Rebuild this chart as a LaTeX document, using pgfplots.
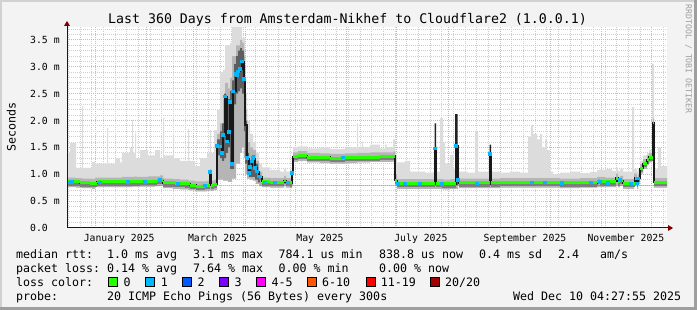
\documentclass[border=0pt]{standalone}
\usepackage{fontspec}
\setmainfont{DejaVu Sans Mono}
\setmonofont{DejaVu Sans Mono}
\usepackage{pgfplots}
\pgfplotsset{compat=1.18}
\usepgfplotslibrary{fillbetween}
\usepackage{pgfplotstable}

\definecolor{bgc}{HTML}{F3F3F3}
\definecolor{smokeA}{HTML}{DCDCDC}
\definecolor{smokeB}{HTML}{B5B5B5}
\definecolor{smokeC}{HTML}{5E5E5E}
\definecolor{smokeD}{HTML}{222222}
\definecolor{band}{HTML}{7E7E7E}
\definecolor{lc0}{HTML}{26FF00}
\definecolor{lc1}{HTML}{00B8FF}
\definecolor{lc2}{HTML}{0059FF}
\definecolor{lc3}{HTML}{7E00FF}
\definecolor{lc4}{HTML}{FF00FF}
\definecolor{lc6}{HTML}{FF5500}
\definecolor{lc11}{HTML}{FF0000}
\definecolor{lc20}{HTML}{A00000}
\definecolor{mgrid}{HTML}{F2A6A6}
\definecolor{mingrid}{HTML}{CFCFCF}
\definecolor{arrowc}{HTML}{7F0000}
\pagecolor{bgc}

\newcommand{\lf}{\fontsize{11.63bp}{13bp}\selectfont}
\newcommand{\tf}{\fontsize{9.8bp}{11bp}\selectfont}
\newcommand{\titf}{\fontsize{13.25bp}{15bp}\selectfont}

% median round-trip time (ms), x = days since 1 Jan 2025
\pgfplotstableread{
x m
-16.8 0.86
-9 0.84
-3 0.83
1.2 0.86
15 0.86
27 0.87
37.2 0.88
39 0.89
40.8 0.84
48 0.83
54 0.82
57 0.80
60.6 0.78
66 0.79
69 1.04
69.6 0.79
71.4 0.81
73.2 1.53
76.2 1.40
76.8 1.73
78 2.45
79.2 1.61
80.4 1.79
81 2.35
82.2 1.19
82.8 2.54
84.6 2.87
85.8 2.91
87 2.96
88.2 3.10
89.4 2.77
90 1.92
91.2 1.30
92.4 1.02
93 1.14
94.2 1.24
94.8 1.30
96 1.12
97.2 1.05
98.4 0.96
100.2 0.86
105 0.85
113.4 0.89
114.6 0.85
117 0.84
118.2 1.02
118.8 1.33
121.8 1.35
127.2 1.32
141 1.30
150 1.31
160.8 1.32
171 1.33
178.8 1.34
180 0.89
181.2 0.83
204 1.48
204.6 0.83
208.2 0.82
216.6 1.53
217.8 0.89
218.4 0.84
237 1.38
237.6 0.84
243 0.85
261 0.85
279 0.84
301.2 0.86
301.8 0.88
303 0.86
312.6 0.93
313.8 0.86
315 0.89
316.8 0.83
324 0.93
325.2 0.83
325.8 0.92
327 1.11
328.8 1.20
331.2 1.27
332.4 1.32
334.8 1.96
335.4 0.85
343.19 0.85
}\medtab

% median segments with 0 loss (green)
\pgfplotstableread{
x m
-16.8 0.86
-9 0.84
-3 0.83
1.2 0.86
15 0.86
27 0.87
37.2 0.88
39 0.89
40.8 0.84
48 0.83
54 0.82
57 0.80
60.6 0.78
66 0.79
69 1.04
69.6 0.79
71.4 0.81
73.2 0.81
73.3 nan
97.2 1.05
98.4 0.96
100.2 0.86
105 0.85
113.4 0.89
114.6 0.85
117 0.84
118.2 1.02
118.8 1.33
121.8 1.35
127.2 1.32
141 1.30
150 1.31
160.8 1.32
171 1.33
178.8 1.34
180 0.89
181.2 0.83
204 1.48
204.6 0.83
208.2 0.82
216.6 1.53
217.8 0.89
218.4 0.84
237 1.38
237.6 0.84
243 0.85
261 0.85
279 0.84
301.2 0.86
301.8 0.88
303 0.86
312.6 0.93
313.8 0.86
315 0.89
316.8 0.83
324 0.93
325.2 0.83
325.8 0.92
327 1.11
328.8 1.20
331.2 1.27
332.4 1.32
334.8 1.96
335.4 0.85
343.19 0.85
}\greentab

% samples with 1 lost ping (blue)
\pgfplotstableread{
x m
-15 0.85
-13.8 0.86
3 0.85
19.8 0.86
30 0.86
39 0.89
49.8 0.83
66 0.79
69 1.04
73.2 1.53
75 1.52
76.2 1.40
76.8 1.73
78 2.45
79.2 1.61
80.4 1.79
81 2.35
82.2 1.19
82.8 2.54
84.6 2.87
85.2 2.85
85.8 2.91
87 2.96
88.2 3.10
89.4 2.77
91.2 1.30
92.4 1.02
93 1.14
94.2 1.24
94.8 1.30
96 1.12
97.2 1.05
98.4 0.96
102 0.85
108 0.85
115.8 0.85
118.2 1.02
148.8 1.31
181.8 0.83
186 0.83
195 0.83
204 1.48
208.2 0.82
216.6 1.53
217.8 0.89
229.2 0.83
237 1.38
262.2 0.85
270 0.85
280.2 0.84
297.6 0.85
303 0.86
307.8 0.84
315 0.89
321.6 0.83
325.2 0.83
325.8 0.92
}\bluetab

% smoke: lower edge, medium band top, maximum
\pgfplotstableread{
x lo md mx
-16.8 0.76 0.94 1.40
-15 0.76 0.94 1.58
-11.4 0.75 0.93 1.12
-7.8 0.74 0.92 2.27
-7.2 0.74 0.92 1.12
-1.8 0.73 0.91 1.23
0 0.76 0.94 1.20
7.2 0.76 0.94 1.86
7.8 0.76 0.94 1.20
12 0.76 0.94 1.30
15 0.76 0.94 1.22
16.2 0.76 0.95 1.40
21 0.76 0.95 1.49
22.2 0.77 0.95 2.01
22.8 0.77 0.95 1.40
24 0.77 0.96 1.77
24.6 0.77 0.95 1.30
27 0.77 0.95 1.45
31.8 0.77 0.96 1.35
36 0.78 0.96 1.45
39 0.79 0.98 1.30
40.8 0.74 0.93 2.05
41.4 0.74 0.92 1.35
46.8 0.73 0.91 1.70
47.4 0.73 0.91 1.30
51 0.72 0.90 1.25
55.8 0.71 0.89 1.84
56.4 0.70 0.88 1.25
60 0.68 0.87 1.15
63 0.68 0.87 1.30
67.2 0.69 0.88 1.40
69 0.70 1.10 1.82
69.6 0.69 0.88 1.40
71.4 0.71 0.90 1.82
73.2 0.90 1.75 2.20
75 0.90 1.95 2.90
76.8 0.88 2.40 2.95
78 0.88 2.70 3.40
79.8 0.86 2.60 3.40
81 0.86 2.80 3.45
82.2 0.92 3.20 3.74
84.6 1.20 3.40 3.74
87 1.40 3.50 3.74
88.2 1.50 3.45 3.54
89.4 1.30 3.20 3.54
90 1.00 2.20 2.50
91.2 0.92 1.60 2.00
93 0.90 1.50 1.75
94.8 0.88 1.45 1.60
96.6 0.82 1.25 1.40
98.4 0.78 1.05 1.20
100.2 0.76 0.94 1.13
105 0.75 0.93 1.08
111 0.75 0.93 1.05
113.4 0.78 0.97 1.10
114.6 0.75 0.93 1.05
117 0.74 0.93 1.08
118.2 0.80 1.10 1.20
118.8 1.23 1.41 1.50
121.8 1.25 1.43 1.52
127.2 1.22 1.40 1.48
135 1.21 1.39 1.50
141 1.20 1.38 1.47
150 1.21 1.39 1.50
157.2 1.22 1.40 1.95
157.8 1.22 1.40 1.50
160.2 1.22 1.40 1.61
160.8 1.22 1.40 1.50
165 1.23 1.41 1.55
171 1.23 1.41 1.48
174 1.23 1.41 1.55
175 1.23 1.41 1.50
178.8 1.24 1.42 1.65
180 0.78 1.00 1.35
181.2 0.73 0.91 1.22
186 0.73 0.91 1.25
189 0.73 0.91 1.05
198 0.73 0.91 1.03
202.8 0.73 0.91 1.05
207 0.73 0.91 2.05
208.8 0.72 0.90 1.59
210 0.72 0.90 1.20
213 0.73 0.91 1.36
214.8 0.73 0.91 1.10
217.8 0.79 0.97 1.05
218.4 0.74 0.92 1.05
223.2 0.74 0.92 1.03
228 0.74 0.92 1.79
229.8 0.74 0.92 1.05
243 0.75 0.93 1.03
249 0.75 0.93 1.05
255 0.75 0.93 1.03
259.8 0.75 0.93 1.70
261.6 0.75 0.93 1.92
262.8 0.75 0.93 1.75
265.2 0.75 0.93 1.65
267 0.75 0.93 1.75
268.2 0.75 0.93 1.50
270 0.75 0.93 1.65
271.2 0.75 0.93 1.45
273 0.75 0.93 1.05
274.8 0.75 0.93 1.00
279 0.74 0.92 1.03
285 0.74 0.92 1.05
291 0.75 0.93 1.02
297 0.75 0.93 1.04
301.2 0.76 0.95 1.08
306 0.76 0.94 1.10
310.2 0.76 0.94 1.06
312.6 0.80 1.01 1.12
313.8 0.76 0.94 1.06
315 0.79 0.97 1.10
316.8 0.73 0.91 1.05
319.8 0.73 0.91 1.05
322.2 0.73 0.91 2.25
323.4 0.80 1.01 1.10
325.2 0.73 0.91 1.05
325.8 0.82 1.00 1.10
327 1.01 1.19 1.25
328.8 1.10 1.28 1.35
331.2 1.17 1.35 1.40
332.4 1.22 1.40 1.45
334.2 1.30 1.50 3.05
334.8 1.85 2.04 3.05
335.4 0.75 0.93 1.10
337.8 0.75 0.93 1.50
339.6 0.75 0.93 1.15
343.19 0.75 0.93 1.15
}\smoketab

% dense (dark) smoke during the high-latency period
\pgfplotstableread{
x dl dh
-16.8 0.8 0.8
73.2 1.35 1.65
75 1.30 1.80
76.2 1.25 1.95
77.4 1.30 2.50
78.6 1.40 2.20
79.8 1.50 2.40
81 1.10 2.55
82.2 1.10 2.75
83.4 2.30 3.05
84.6 2.50 3.20
85.8 2.55 3.30
87 2.60 3.35
88.2 2.50 3.30
89.4 1.80 3.00
90 1.20 2.00
91.2 1.00 1.40
92.4 0.95 1.25
94.2 0.95 1.35
96 0.90 1.20
97.8 0.85 1.05
99 0.8 0.8
343.19 0.8 0.8
}\darktab

% black spikes
\pgfplotstableread{
x dl dh
-16.8 0.8 0.8
203.7 0.80 1.95
204.6 0.8 0.8
216 0.80 2.12
217.5 0.8 0.8
236.7 0.80 1.55
237.6 0.8 0.8
343.19 0.8 0.8
}\spiketab

\begin{document}
\begin{tikzpicture}
\fill[black!18] (0bp,0bp) rectangle (2bp,310bp);
\fill[black!18] (0bp,308bp) rectangle (697bp,310bp);
\fill[black!38] (694bp,0bp) rectangle (697bp,310bp);
\fill[black!38] (0bp,0bp) rectangle (697bp,3bp);

\begin{axis}[
  at={(67bp,82bp)}, anchor=south west,
  scale only axis, width=600bp, height=201bp,
  xmin=-16.81, xmax=343.19, ymin=0, ymax=3.742,
  axis background/.style={fill=white},
  axis line style={draw=none},
  major tick length=0pt, minor tick length=0pt,
  tick pos=left,
  xtick={0,31,59,90,120,151,181,212,243,273,304,334},
  xticklabels={},
  minor xtick={-16,-9,...,341},
  extra x ticks={14.5,73.5,135,195.5,258,318.5},
  extra x tick labels={January 2025,March 2025,May 2025,July 2025,September 2025,November 2025},
  extra x tick style={grid=none, major tick length=0pt},
  ytick={0,0.5,1,1.5,2,2.5,3,3.5},
  yticklabels={0.0,0.5 m,1.0 m,1.5 m,2.0 m,2.5 m,3.0 m,3.5 m},
  minor ytick={0.1,0.2,0.3,0.4,0.6,0.7,0.8,0.9,1.1,1.2,1.3,1.4,1.6,1.7,1.8,1.9,2.1,2.2,2.3,2.4,2.6,2.7,2.8,2.9,3.1,3.2,3.3,3.4,3.6,3.7},
  grid=both,
  major grid style={mgrid, line width=1bp, dash pattern=on 1bp off 1bp},
  minor grid style={mingrid, line width=1bp, dash pattern=on 1bp off 1bp},
  x tick label style={font=\tf, anchor=base, inner sep=0pt, yshift=-13.5bp},
  y tick label style={font=\tf, anchor=west, inner sep=0pt, xshift=-37bp},
  unbounded coords=jump,
]
\addplot[const plot, draw=none, name path=slo] table[x=x,y=lo]{\smoketab};
\addplot[const plot, draw=none, name path=smd] table[x=x,y=md]{\smoketab};
\addplot[const plot, draw=none, name path=smx] table[x=x,y=mx]{\smoketab};
\addplot[fill=smokeA, draw=none] fill between[of=slo and smx];
\addplot[fill=smokeB, draw=none] fill between[of=slo and smd];

\addplot[const plot, draw=none, name path=dlo] table[x=x,y=dl]{\darktab};
\addplot[const plot, draw=none, name path=dhi] table[x=x,y=dh]{\darktab};
\addplot[fill=smokeC, draw=none] fill between[of=dlo and dhi];

\addplot[const plot, draw=none, name path=klo] table[x=x,y=dl]{\spiketab};
\addplot[const plot, draw=none, name path=khi] table[x=x,y=dh]{\spiketab};
\addplot[fill=smokeD, draw=none] fill between[of=klo and khi];

\addplot[jump mark left, band, line width=2.5bp, yshift=-2.5bp] table[x=x,y=m]{\greentab};
\addplot[const plot, black!90, line width=1.3bp] table[x=x,y=m]{\medtab};
\addplot[jump mark left, lc0, line width=3bp] table[x=x,y=m]{\greentab};
\addplot[only marks, color=lc1, mark=square*, mark size=1.3bp, mark options={solid, draw=lc1, fill=lc1, line width=0pt}] table[x=x,y=m]{\bluetab};
\end{axis}

% axes with arrows
\draw[line width=1bp, black!90] (67bp,82bp) -- (668bp,82bp);
\draw[line width=1bp, black!90] (67bp,82bp) -- (67bp,284bp);
\fill[arrowc] (668bp,85bp) -- (673bp,82bp) -- (668bp,79bp) -- cycle;
\fill[arrowc] (64bp,284bp) -- (67bp,289bp) -- (70bp,284bp) -- cycle;

% title and labels
\node[anchor=base, inner sep=0pt, font=\titf] at (347.5bp,286bp) {Last 360 Days from Amsterdam-Nikhef to Cloudflare2 (1.0.0.1)};
\node[rotate=90, anchor=base, inner sep=0pt, font=\lf] at (15.5bp,183bp) {Seconds};
\node[rotate=-90, inner sep=0pt, text=black!38, font=\fontsize{8.2bp}{9bp}\selectfont] at (688.5bp,251bp) {RRDTOOL / TOBI OETIKER};

% legend
\begin{scope}[every node/.style={anchor=base west, inner sep=0pt, font=\lf}]
\node at (16bp,51.7bp) {median rtt:};
\node at (107bp,51.7bp) {1.0 ms avg};
\node at (193bp,51.7bp) {3.1 ms max};
\node at (278.5bp,51.7bp) {784.1 us min};
\node at (379bp,51.7bp) {838.8 us now};
\node at (479bp,51.7bp) {0.4 ms sd};
\node at (558bp,51.7bp) {2.4};
\node at (600bp,51.7bp) {am/s};

\node at (16bp,37.7bp) {packet loss:};
\node at (107bp,37.7bp) {0.14 \% avg};
\node at (193bp,37.7bp) {7.64 \% max};
\node at (278.5bp,37.7bp) {0.00 \% min};
\node at (379bp,37.7bp) {0.00 \% now};

\node at (16bp,23.7bp) {loss color:};
\filldraw[fill=lc0, draw=black, line width=0.8bp] (108.7bp,23.5bp) rectangle ++(9bp,9bp);
\node at (123.3bp,23.7bp) {0};
\filldraw[fill=lc1, draw=black, line width=0.8bp] (145.7bp,23.5bp) rectangle ++(9bp,9bp);
\node at (160.7bp,23.7bp) {1};
\filldraw[fill=lc2, draw=black, line width=0.8bp] (182.7bp,23.5bp) rectangle ++(9bp,9bp);
\node at (197.3bp,23.7bp) {2};
\filldraw[fill=lc3, draw=black, line width=0.8bp] (219.7bp,23.5bp) rectangle ++(9bp,9bp);
\node at (234.3bp,23.7bp) {3};
\filldraw[fill=lc4, draw=black, line width=0.8bp] (256.7bp,23.5bp) rectangle ++(9bp,9bp);
\node at (271.3bp,23.7bp) {4-5};
\filldraw[fill=lc6, draw=black, line width=0.8bp] (307.3bp,23.5bp) rectangle ++(9bp,9bp);
\node at (322bp,23.7bp) {6-10};
\filldraw[fill=lc11, draw=black, line width=0.8bp] (366bp,23.5bp) rectangle ++(9bp,9bp);
\node at (380.7bp,23.7bp) {11-19};
\filldraw[fill=lc20, draw=black, line width=0.8bp] (430.7bp,23.5bp) rectangle ++(9bp,9bp);
\node at (445bp,23.7bp) {20/20};

\node at (16bp,9.7bp) {probe:};
\node at (107bp,9.7bp) {20 ICMP Echo Pings (56 Bytes) every 300s};
\node at (513bp,9.7bp) {Wed Dec 10 04:27:55 2025};
\end{scope}
\end{tikzpicture}
\end{document}
